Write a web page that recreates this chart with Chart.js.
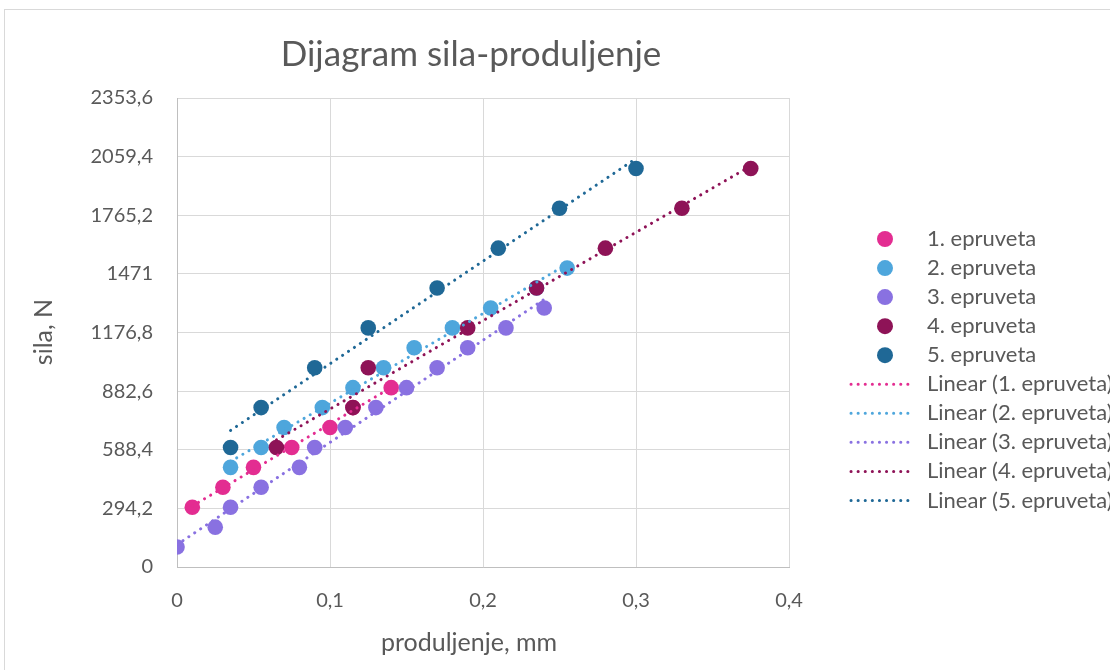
<!DOCTYPE html>
<html>
<head>
<meta charset="utf-8">
<script src="https://cdn.jsdelivr.net/npm/chart.js@4.4.1/dist/chart.umd.min.js"></script>
<style>
  html, body { margin: 0; padding: 0; background: #fff; }
  #wrap { width: 1110px; height: 670px; }
</style>
</head>
<body>
<div id="wrap"><canvas id="silaChart" width="1110" height="670"></canvas></div>
<script>
// data (x = produljenje in mm, y = sila in N)
const names = ['1. epruveta', '2. epruveta', '3. epruveta', '4. epruveta', '5. epruveta'];
const colors = ['#E32D91', '#4EA6DC', '#8971E1', '#8E1357', '#1F6896'];

const x1 = [0.01, 0.03, 0.05, 0.075, 0.1, 0.115, 0.14];
const y1 = [300, 400, 500, 600, 700, 800, 900];

const x2 = [0.035, 0.055, 0.07, 0.095, 0.115, 0.135, 0.155, 0.18, 0.205, 0.235, 0.255];
const y2 = [500, 600, 700, 800, 900, 1000, 1100, 1200, 1300, 1400, 1500];

const x3 = [0, 0.025, 0.035, 0.055, 0.08, 0.09, 0.11, 0.13, 0.15, 0.17, 0.19, 0.215, 0.24];
const y3 = [100, 200, 300, 400, 500, 600, 700, 800, 900, 1000, 1100, 1200, 1300];

const x4 = [0.065, 0.115, 0.125, 0.19, 0.235, 0.28, 0.33, 0.375];
const y4 = [600, 800, 1000, 1200, 1400, 1600, 1800, 2000];

const x5 = [0.035, 0.055, 0.09, 0.125, 0.17, 0.21, 0.25, 0.3];
const y5 = [600, 800, 1000, 1200, 1400, 1600, 1800, 2000];

const xTicks = [0, 0.1, 0.2, 0.3, 0.4];
const yStep = 294.2;
const yMax = 2353.6;

const allX = [x1, x2, x3, x4, x5];
const allY = [y1, y2, y3, y4, y5];

const textColor = '#595959';
const fontName = 'Lato, "Open Sans", sans-serif';

// excel style linear trendline (least squares) from first to last x
function trend(xs, ys) {
  const n = xs.length;
  let mx = 0, my = 0;
  for (let i = 0; i < n; i++) { mx += xs[i]; my += ys[i]; }
  mx /= n; my /= n;
  let sxy = 0, sxx = 0;
  for (let i = 0; i < n; i++) {
    sxy += (xs[i] - mx) * (ys[i] - my);
    sxx += (xs[i] - mx) * (xs[i] - mx);
  }
  const k = sxy / sxx;
  const b = my - k * mx;
  const lo = Math.min(...xs), hi = Math.max(...xs);
  return [{ x: lo, y: k * lo + b }, { x: hi, y: k * hi + b }];
}

const datasets = [];
names.forEach((nm, i) => {
  datasets.push({
    type: 'scatter',
    label: nm,
    data: allX[i].map((v, j) => ({ x: v, y: allY[i][j] })),
    backgroundColor: colors[i],
    borderColor: colors[i],
    borderWidth: 0,
    pointRadius: 7.8,
    order: 20 - i
  });
});
names.forEach((nm, i) => {
  datasets.push({
    type: 'line',
    label: 'Linear (' + nm + ')',
    data: trend(allX[i], allY[i]),
    borderColor: colors[i],
    borderWidth: 3,
    borderDash: [0.1, 7],
    borderCapStyle: 'round',
    pointRadius: 0,
    fill: false,
    order: 10 - i
  });
});

const fmt = v => String(Math.round(v * 10) / 10).replace('.', ',');

// title, axis titles, frame and legend drawn by hand to sit where excel puts them
const decor = {
  id: 'decor',
  beforeDraw(chart) {
    const ctx = chart.ctx;
    ctx.save();
    ctx.fillStyle = '#fff';
    ctx.fillRect(0, 0, chart.width, chart.height);
    ctx.strokeStyle = '#d9d9d9';
    ctx.lineWidth = 1;
    ctx.strokeRect(4.5, 9.5, 1200, 700);
    ctx.restore();
  },
  afterDraw(chart) {
    const ctx = chart.ctx;
    ctx.save();
    ctx.fillStyle = textColor;
    ctx.textBaseline = 'middle';
    ctx.textAlign = 'center';
    ctx.font = '35px ' + fontName;
    ctx.fillText('Dijagram sila-produljenje', 471, 55);

    ctx.font = '25px ' + fontName;
    ctx.fillText('produljenje, mm', 469, 643);
    ctx.translate(44, 332);
    ctx.rotate(-Math.PI / 2);
    ctx.fillText('sila, N', 0, 0);
    ctx.restore();

    // legend
    ctx.save();
    ctx.font = '22px ' + fontName;
    ctx.textAlign = 'left';
    ctx.textBaseline = 'middle';
    const top = 239, gap = 29.05;
    names.forEach((nm, i) => {
      const yy = top + gap * i;
      ctx.fillStyle = colors[i];
      ctx.beginPath();
      ctx.arc(885, yy, 8, 0, Math.PI * 2);
      ctx.fill();
      ctx.fillStyle = textColor;
      ctx.fillText(nm, 927, yy);
    });
    names.forEach((nm, i) => {
      const yy = top + gap * (i + 5);
      ctx.strokeStyle = colors[i];
      ctx.lineWidth = 3;
      ctx.lineCap = 'round';
      ctx.setLineDash([0.1, 7]);
      ctx.beginPath();
      ctx.moveTo(851, yy);
      ctx.lineTo(913, yy);
      ctx.stroke();
      ctx.setLineDash([]);
      ctx.fillStyle = textColor;
      ctx.fillText('Linear (' + nm + ')', 927, yy);
    });
    ctx.restore();
  }
};

new Chart(document.getElementById('silaChart'), {
  data: { datasets: datasets },
  plugins: [decor],
  options: {
    responsive: false,
    animation: false,
    devicePixelRatio: 1,
    layout: { padding: { top: 98, right: 321, left: 0, bottom: 0 } },
    plugins: {
      legend: { display: false },
      title: { display: false },
      tooltip: { enabled: false }
    },
    scales: {
      x: {
        type: 'linear',
        min: xTicks[0],
        max: xTicks[xTicks.length - 1],
        afterBuildTicks: s => { s.ticks = xTicks.map(v => ({ value: v })); },
        afterFit: s => { s.height = 670 - 567; },
        grid: { color: '#d9d9d9', lineWidth: 1, drawTicks: false },
        border: { color: '#bfbfbf', width: 1 },
        ticks: {
          color: textColor,
          font: { family: fontName, size: 20 },
          padding: 22,
          maxRotation: 0,
          callback: v => fmt(v)
        }
      },
      y: {
        type: 'linear',
        min: 0,
        max: yMax,
        afterFit: s => { s.width = 177; },
        grid: { color: '#d9d9d9', lineWidth: 1, drawTicks: false },
        border: { color: '#bfbfbf', width: 1 },
        ticks: {
          stepSize: yStep,
          color: textColor,
          font: { family: fontName, size: 20 },
          padding: 24,
          callback: v => fmt(v)
        }
      }
    }
  }
});
</script>
</body>
</html>
